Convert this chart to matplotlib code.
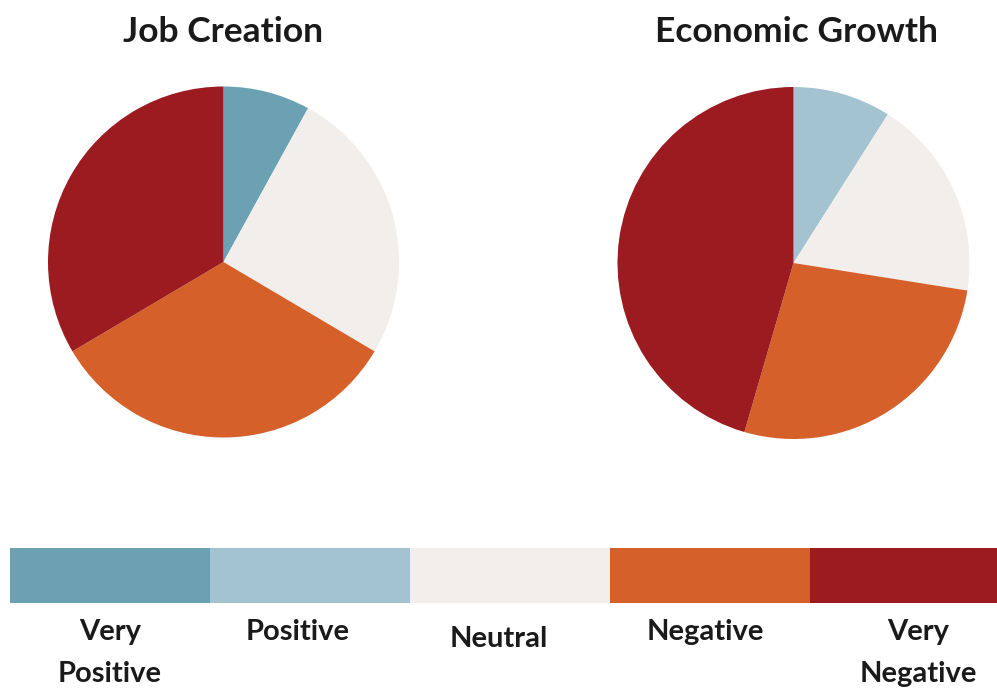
import matplotlib
matplotlib.use("Agg")
import matplotlib.pyplot as plt
from matplotlib.transforms import blended_transform_factory

plt.rcParams["font.family"] = ["Lato", "DejaVu Sans"]

# response categories, most positive first
categories = ["Very\nPositive", "Positive", "Neutral", "Negative", "Very\nNegative"]
colors = ["#6BA1B3", "#A2C3CF", "#F1EEEC", "#D5602A", "#9B1B20"]

# share of responses (%) per category
job_creation = [8.0, 0.0, 25.5, 33.0, 33.5]
economic_growth = [0.0, 9.0, 18.5, 27.0, 45.5]

W, H = 997, 696
fig = plt.figure(figsize=(W / 100, H / 100), dpi=100)
fig.patch.set_facecolor("white")


def px_axes(x0, y0, x1, y1):
    """Axes placed by pixel box (top-left origin)."""
    return fig.add_axes([x0 / W, 1 - y1 / H, (x1 - x0) / W, (y1 - y0) / H])


def draw_pie(ax, values, title, title_x):
    ax.pie(
        values,
        colors=colors,
        startangle=90,
        counterclock=False,
        radius=1.0,
        wedgeprops={"linewidth": 0},
    )
    ax.set_xlim(-1, 1)
    ax.set_ylim(-1, 1)
    ax.set_aspect("equal")
    ax.axis("off")
    fig.text(title_x / W, 1 - 42 / H, title, ha="center", va="baseline",
             fontsize=25.5, fontweight="bold", color="#1a1a1a")


ax_left = px_axes(48, 86.5, 399, 437.5)
draw_pie(ax_left, job_creation, "Job Creation", 223)

ax_right = px_axes(617.5, 87, 969.5, 439)
draw_pie(ax_right, economic_growth, "Economic Growth", 796)

# colour key strip along the bottom (runs slightly past the right edge)
ax_key = px_axes(10, 548, 1010, 603)
x = range(len(categories))
ax_key.bar(x, [1] * len(categories), width=1.0, color=colors, linewidth=0)
ax_key.set_xlim(-0.5, len(categories) - 0.5)
ax_key.set_ylim(0, 1)
ax_key.axis("off")

trans = blended_transform_factory(ax_key.transData, ax_key.transAxes)
nudge_x = [0.0, -0.06, -0.055, -0.025, 0.04]
label_y = [-0.29, -0.29, -0.42, -0.29, -0.29]
for i, label in enumerate(categories):
    ax_key.text(i + nudge_x[i], label_y[i], label, transform=trans,
                ha="center", va="top", fontsize=21, fontweight="bold",
                color="#1a1a1a", linespacing=1.75)

fig.savefig("out.png", dpi=100, facecolor="white")
plt.close(fig)
